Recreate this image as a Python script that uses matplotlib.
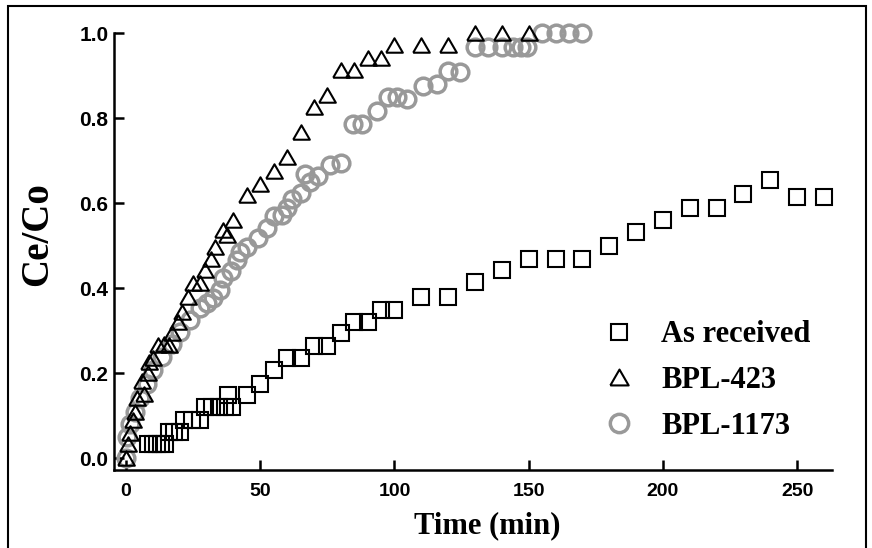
import matplotlib.pyplot as plt
from matplotlib.patches import Rectangle

# breakthrough data
as_t = [8, 10, 11.5, 13, 14.5, 16, 18, 20, 21.5, 24.5, 27.5, 29.5, 32, 34.5, 37, 39.5,
        38, 45, 50, 55, 60, 65, 70, 75, 80, 85, 90, 95, 100, 110, 120, 130, 140,
        150, 160, 170, 180, 190, 200, 210, 220, 230, 240, 250, 260]
as_v = [0.034, 0.034, 0.034, 0.034, 0.034, 0.061, 0.061, 0.061, 0.089, 0.089, 0.089,
        0.12, 0.12, 0.12, 0.12, 0.12, 0.148, 0.148, 0.176, 0.207, 0.236, 0.236, 0.264,
        0.264, 0.294, 0.321, 0.321, 0.35, 0.35, 0.38, 0.38, 0.415, 0.443, 0.47, 0.47,
        0.47, 0.50, 0.533, 0.56, 0.59, 0.59, 0.623, 0.655, 0.615, 0.615]

b423_t = [0, 0.7, 1.5, 2.5, 3.5, 4, 6.5, 6, 8, 8.5, 10, 12, 14, 16, 17, 19.5, 21, 23,
          25, 27.5, 29.5, 31.5, 33, 36, 37.5, 40, 45, 50, 55, 60, 65, 70, 75, 80, 85,
          90, 95, 100, 110, 120, 130, 140, 150]
b423_v = [0.0, 0.034, 0.06, 0.089, 0.11, 0.143, 0.152, 0.183, 0.2, 0.226, 0.235, 0.266,
          0.27, 0.266, 0.294, 0.32, 0.344, 0.38, 0.412, 0.412, 0.443, 0.47, 0.498,
          0.538, 0.526, 0.56, 0.62, 0.645, 0.675, 0.708, 0.767, 0.826, 0.855, 0.914,
          0.914, 0.942, 0.942, 0.973, 0.973, 0.973, 1.0, 1.0, 1.0]

b1173_t = [0, 0.5, 1.5, 3.4, 5.2, 7.8, 10, 13.4, 17, 20, 24, 27.5, 30, 32.5, 35, 36.2,
           39, 41.5, 42.5, 45, 49, 52.5, 55, 58, 60, 62, 65, 66.7, 68.5, 71.5, 76, 80,
           84.5, 88, 93.5, 97.7, 101, 104.7, 110.7, 116, 120, 124.5, 130, 135, 140,
           144, 147, 149.5, 155, 160, 165, 170]
b1173_v = [0.0, 0.05, 0.08, 0.11, 0.143, 0.176, 0.207, 0.238, 0.27, 0.297, 0.325, 0.353,
           0.365, 0.377, 0.396, 0.424, 0.44, 0.467, 0.486, 0.498, 0.519, 0.542, 0.569,
           0.573, 0.59, 0.609, 0.625, 0.668, 0.649, 0.664, 0.69, 0.696, 0.786, 0.786,
           0.817, 0.85, 0.85, 0.845, 0.876, 0.88, 0.911, 0.909, 0.968, 0.968, 0.968,
           0.968, 0.968, 0.968, 1.0, 1.0, 1.0, 1.0]

labels = ['As received', 'BPL-423', 'BPL-1173']
xticks = [0, 50, 100, 150, 200, 250]
yticks = [0.0, 0.2, 0.4, 0.6, 0.8, 1.0]

W, H = 872, 548
fig = plt.figure(figsize=(W / 100, H / 100), dpi=100)
ax = fig.add_axes([114 / W, 1 - 470 / H, (832 - 114) / W, (470 - 33.3) / H])

tri = [(-1, -0.866), (1, -0.866), (0, 0.866), (-1, -0.866)]

ax.plot(b1173_t, b1173_v, ls='none', marker='o', ms=12, mfc='none', mec='#999999',
        mew=2.5, clip_on=False, zorder=3, label=labels[2])
ax.plot(as_t, as_v, ls='none', marker='s', ms=11, mfc='none', mec='black',
        mew=1.5, clip_on=False, zorder=4, label=labels[0])
ax.plot(b423_t, b423_v, ls='none', marker=tri, ms=12, mfc='none', mec='black',
        mew=1.5, clip_on=False, zorder=5, label=labels[1])

ax.set_xlim(-4.5, 263)
ax.set_ylim(-0.0275, 1.0)
for s in ['top', 'right']:
    ax.spines[s].set_visible(False)
for s in ['left', 'bottom']:
    ax.spines[s].set_linewidth(1.8)

ax.set_xticks(xticks)
ax.set_yticks(yticks)
ax.set_yticklabels(['%.1f' % v for v in yticks])
ax.tick_params(direction='in', length=7, width=1.8)
ax.tick_params(axis='x', pad=9)
ax.tick_params(axis='y', pad=4)
for lab in ax.get_xticklabels():
    lab.set_fontfamily('Liberation Sans')
    lab.set_fontweight('bold')
    lab.set_fontsize(14)
for lab in ax.get_yticklabels():
    lab.set_fontfamily('Liberation Sans')
    lab.set_fontweight('bold')
    lab.set_fontsize(15)

serif = {'family': 'Liberation Serif', 'weight': 'bold', 'size': 22}
ax.set_xlabel('Time (min)', fontdict=serif)
ax.xaxis.set_label_coords(0.52, -0.095)
ax.set_ylabel('Ce/Co', fontdict={**serif, 'size': 28})
ax.yaxis.set_label_coords(-0.08, 0.54)

h, l = ax.get_legend_handles_labels()
order = [1, 2, 0]
ax.legend([h[i] for i in order], [l[i] for i in order], loc='upper left',
          bbox_to_anchor=(585 / W, 1 - 305 / H), bbox_transform=fig.transFigure,
          frameon=False, prop=serif, borderpad=0, handlelength=1.2,
          handletextpad=0.8, labelspacing=0.55, markerscale=1.1)

fig.patches.append(Rectangle((8 / W, -0.1), (866 - 8) / W, 1.1 - 6 / H,
                             transform=fig.transFigure, fill=False, lw=1.5,
                             ec='black'))

plt.savefig('out.png', dpi=100)
